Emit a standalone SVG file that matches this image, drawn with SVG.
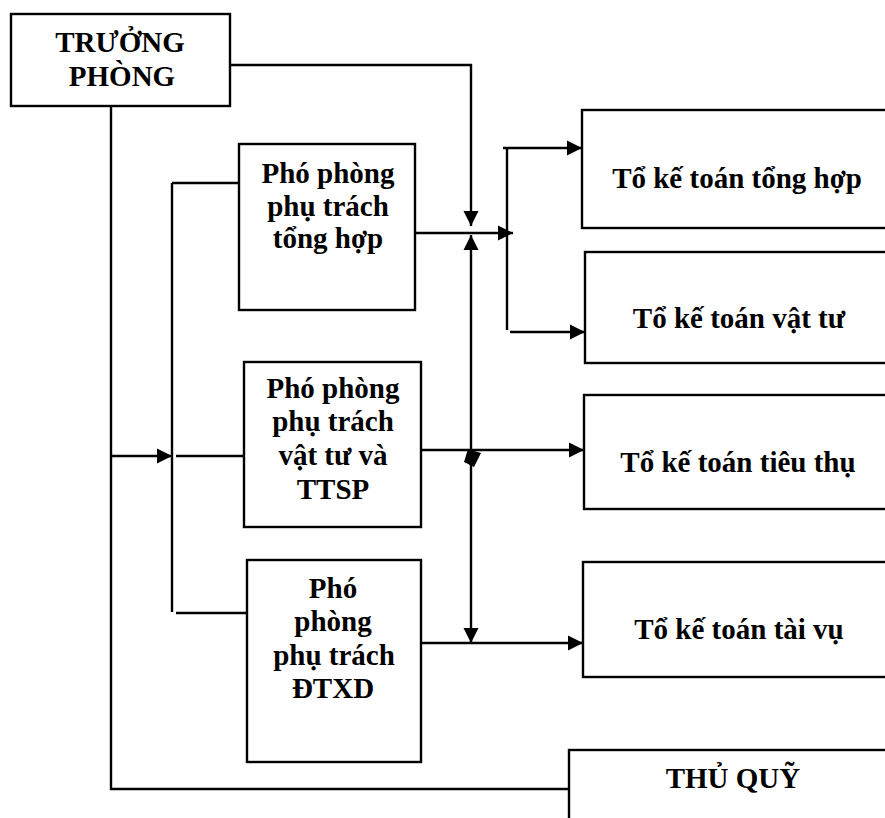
<svg xmlns="http://www.w3.org/2000/svg" width="885" height="818" viewBox="0 0 885 818">
  <style>
    .box { fill: #ffffff; stroke: #000000; stroke-width: 2.4; }
    .lbl { font-family: "Liberation Serif", "Times New Roman", serif; font-weight: bold; font-size: 29px; fill: #000000; text-anchor: middle; }
    .ln { fill: none; stroke: #000000; stroke-width: 2.4; }
    .arr { marker-end: url(#head); }
  </style>
  <defs>
    <marker id="head" markerUnits="userSpaceOnUse" markerWidth="17" markerHeight="17" refX="15" refY="8" orient="auto">
      <path d="M0,0.5 L15,8 L0,15.5 z" fill="#000000"/>
    </marker>
  </defs>
  <rect width="885" height="818" fill="#ffffff"/>

  <!-- connectors -->
  <g id="connectors">
    <!-- head of department to general accounting column -->
    <path class="ln arr" d="M230,65 H471 V226"/>
    <!-- head of department down to cashier -->
    <path class="ln" d="M111,106 V789 H569"/>
    <!-- head of department to deputy bus -->
    <path class="ln arr" d="M111,456 H172"/>
    <path class="ln" d="M172,183 V612"/>
    <path class="ln" d="M172,183 H239"/>
    <path class="ln" d="M176,456 H244"/>
    <path class="ln" d="M176,613 H247"/>
    <!-- deputy (general) to accounting teams -->
    <path class="ln arr" d="M415,233 H513"/>
    <path class="ln" d="M507,148 V330"/>
    <path class="ln arr" d="M503,148 H582"/>
    <path class="ln arr" d="M510,332 H585"/>
    <!-- deputy (materials) to sales team -->
    <path class="ln arr" d="M421,450 H584"/>
    <!-- deputy (construction) to finance team -->
    <path class="ln arr" d="M421,643 H583"/>
    <!-- vertical link between deputies, arrowheads at both ends -->
    <path class="ln arr" d="M471,452 V235"/>
    <path class="ln arr" d="M471,452 V643"/>
    <polygon points="468,449 481,453 474,467 464,462" fill="#000000"/>
  </g>

  <g id="truong-phong">
    <rect class="box" x="11" y="14" width="219" height="92"/>
    <text class="lbl" x="120" y="52">TRƯỞNG</text>
    <text class="lbl" x="122" y="86">PHÒNG</text>
  </g>

  <g id="pho-phong-tong-hop">
    <rect class="box" x="239" y="144" width="176" height="166"/>
    <text class="lbl" x="328" y="183">Phó phòng</text>
    <text class="lbl" x="328" y="216">phụ trách</text>
    <text class="lbl" x="328" y="248">tổng hợp</text>
  </g>

  <g id="pho-phong-vat-tu">
    <rect class="box" x="244" y="362" width="177" height="165"/>
    <text class="lbl" x="333" y="398">Phó phòng</text>
    <text class="lbl" x="333" y="431">phụ trách</text>
    <text class="lbl" x="333" y="465">vật tư và</text>
    <text class="lbl" x="333" y="499">TTSP</text>
  </g>

  <g id="pho-phong-dtxd">
    <rect class="box" x="247" y="560" width="174" height="202"/>
    <text class="lbl" x="333" y="598">Phó</text>
    <text class="lbl" x="333" y="631">phòng</text>
    <text class="lbl" x="334" y="665">phụ trách</text>
    <text class="lbl" x="333" y="698">ĐTXD</text>
  </g>

  <g id="to-tong-hop">
    <rect class="box" x="582" y="110" width="310" height="118"/>
    <text class="lbl" x="737" y="188">Tổ kế toán tổng hợp</text>
  </g>

  <g id="to-vat-tu">
    <rect class="box" x="585" y="252" width="310" height="111"/>
    <text class="lbl" x="739" y="328">Tổ kế toán vật tư</text>
  </g>

  <g id="to-tieu-thu">
    <rect class="box" x="584" y="395" width="310" height="114"/>
    <text class="lbl" x="738" y="472">Tổ kế toán tiêu thụ</text>
  </g>

  <g id="to-tai-vu">
    <rect class="box" x="583" y="562" width="310" height="115"/>
    <text class="lbl" x="739" y="639">Tổ kế toán tài vụ</text>
  </g>

  <g id="thu-quy">
    <rect class="box" x="569" y="750" width="330" height="90"/>
    <text class="lbl" x="733" y="788">THỦ QUỸ</text>
  </g>
</svg>
